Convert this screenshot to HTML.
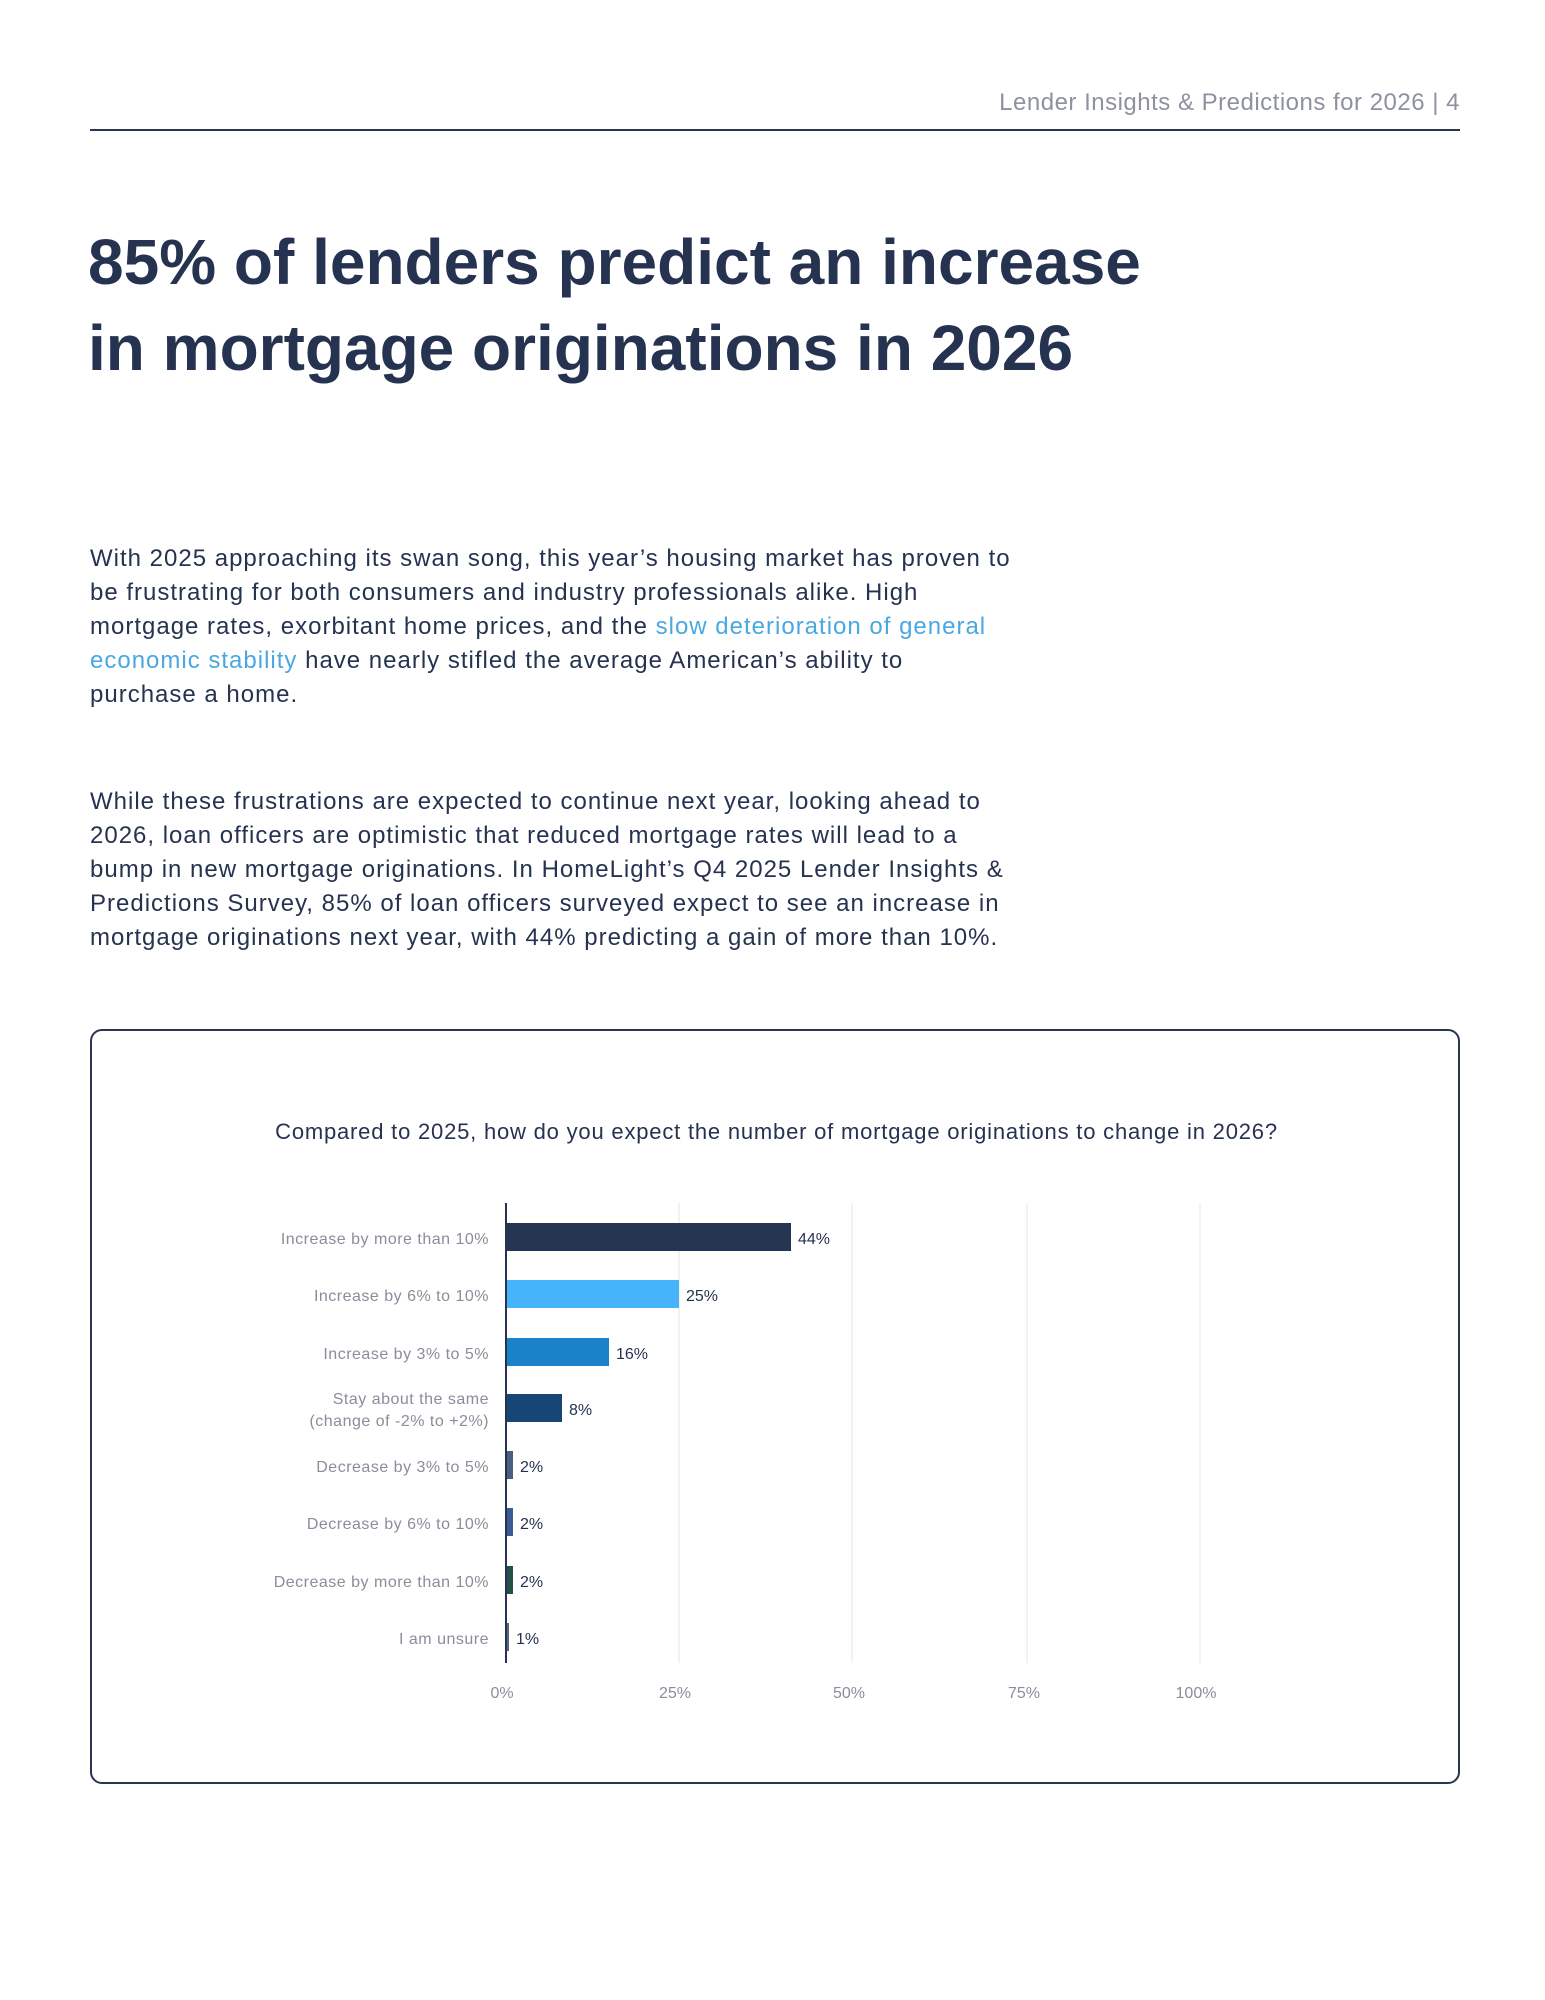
<!DOCTYPE html>
<html><head><meta charset="utf-8"><style>
body{margin:0;width:1545px;height:2000px;background:#fff;position:relative;font-family:"Liberation Sans",sans-serif;overflow:hidden}
.a{position:absolute;white-space:nowrap}
</style></head><body>
<div class="a" style="right:85px;top:89px;font-size:24px;color:#8e91a0;letter-spacing:0.5px">Lender Insights &amp; Predictions for 2026 | 4</div>
<div class="a" style="left:90px;top:129px;width:1370px;height:2px;background:#2a3550"></div>
<div class="a" style="left:88px;top:219px;font-size:64px;font-weight:bold;color:#253250;line-height:86px;letter-spacing:0px">85% of lenders predict an increase<br>in mortgage originations in 2026</div>
<div class="a" style="left:90px;top:542px;font-size:24px;color:#253250;line-height:34px;letter-spacing:1px">With 2025 approaching its swan song, this year’s housing market has proven to<br>be frustrating for both consumers and industry professionals alike. High<br>mortgage rates, exorbitant home prices, and the <span style="color:#4aa8e0">slow deterioration of general</span><br><span style="color:#4aa8e0">economic stability</span> have nearly stifled the average American’s ability to<br>purchase a home.</div>
<div class="a" style="left:90px;top:785px;font-size:24px;color:#253250;line-height:34px;letter-spacing:1px">While these frustrations are expected to continue next year, looking ahead to<br>2026, loan officers are optimistic that reduced mortgage rates will lead to a<br>bump in new mortgage originations. In HomeLight’s Q4 2025 Lender Insights &amp;<br>Predictions Survey, 85% of loan officers surveyed expect to see an increase in<br>mortgage originations next year, with 44% predicting a gain of more than 10%.</div>
<div class="a" style="left:90px;top:1029px;width:1366px;height:751px;border:2px solid #2a3550;border-radius:12px"></div>
<div class="a" style="left:0;width:1545px;text-align:center;top:1119px;font-size:22px;color:#253250;padding-left:8px;box-sizing:border-box;letter-spacing:0.8px">Compared to 2025, how do you expect the number of mortgage originations to change in 2026?</div>
<svg class="a" style="left:0;top:0" width="1545" height="2000">
<g stroke="#e4e4e8" stroke-width="1">
<line x1="679" y1="1203" x2="679" y2="1663"/><line x1="852" y1="1203" x2="852" y2="1663"/><line x1="1027" y1="1203" x2="1027" y2="1663"/><line x1="1200" y1="1203" x2="1200" y2="1663"/>
</g>
<g>
<rect x="506" y="1223" width="285" height="28" fill="#253450"/>
<rect x="506" y="1280" width="173" height="28" fill="#45b4fb"/>
<rect x="506" y="1338" width="103" height="28" fill="#1a82c8"/>
<rect x="506" y="1394" width="56" height="28" fill="#154675"/>
<rect x="506" y="1451" width="7" height="28" fill="#4a5e80"/>
<rect x="506" y="1508" width="7" height="28" fill="#3d5a95"/>
<rect x="506" y="1566" width="7" height="28" fill="#24504a"/>
<rect x="506" y="1623" width="3" height="28" fill="#59677a"/>
</g>
<line x1="506" y1="1203" x2="506" y2="1663" stroke="#253250" stroke-width="2"/>
<g font-family="Liberation Sans, sans-serif" font-size="16" fill="#8a8d9a" text-anchor="end" letter-spacing="0.5">
<text x="489" y="1244">Increase by more than 10%</text>
<text x="489" y="1301">Increase by 6% to 10%</text>
<text x="489" y="1359">Increase by 3% to 5%</text>
<text x="489" y="1404">Stay about the same</text>
<text x="489" y="1426">(change of -2% to +2%)</text>
<text x="489" y="1472">Decrease by 3% to 5%</text>
<text x="489" y="1529">Decrease by 6% to 10%</text>
<text x="489" y="1587">Decrease by more than 10%</text>
<text x="489" y="1644">I am unsure</text>
</g>
<g font-family="Liberation Sans, sans-serif" font-size="16" fill="#253250">
<text x="798" y="1244">44%</text>
<text x="686" y="1301">25%</text>
<text x="616" y="1359">16%</text>
<text x="569" y="1415">8%</text>
<text x="520" y="1472">2%</text>
<text x="520" y="1529">2%</text>
<text x="520" y="1587">2%</text>
<text x="516" y="1644">1%</text>
</g>
<g font-family="Liberation Sans, sans-serif" font-size="16" fill="#8a8d9a" text-anchor="middle">
<text x="502" y="1698">0%</text><text x="675" y="1698">25%</text><text x="849" y="1698">50%</text><text x="1024" y="1698">75%</text><text x="1196" y="1698">100%</text>
</g>
</svg>
</body></html>
